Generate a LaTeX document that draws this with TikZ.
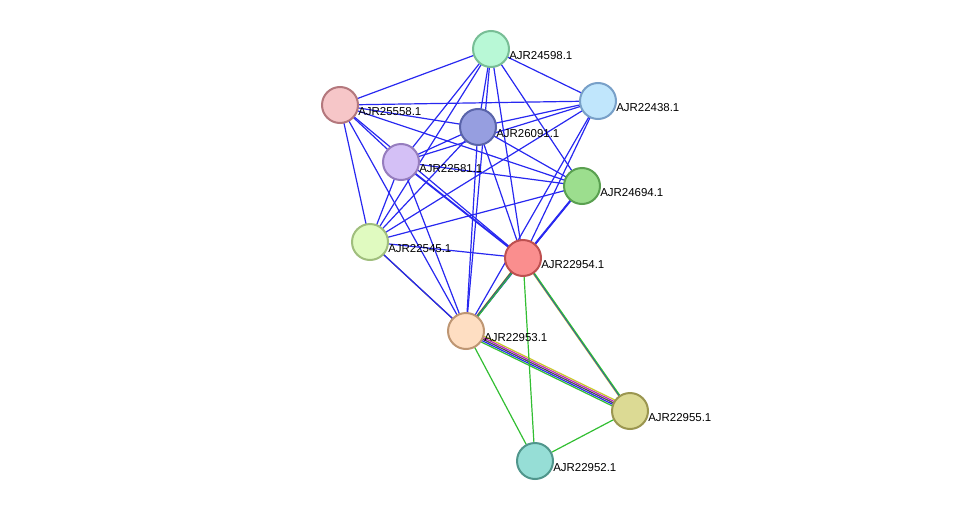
\documentclass[tikz,border=0pt]{standalone}
\usepackage{fontspec}
\setmainfont{Liberation Sans}
\begin{document}
\begin{tikzpicture}[x=0.75pt,y=0.75pt,yscale=-1,
  prot/.style={circle,minimum size=27pt,inner sep=0pt,line width=1.5pt},
  lab/.style={anchor=south west,inner sep=0pt,font=\fontsize{8.6}{10}\selectfont},
  blu/.style={draw={rgb,255:red,40;green,40;blue,240},line width=0.9pt},
  grn/.style={draw={rgb,255:red,50;green,190;blue,50},line width=0.9pt}]
\useasboundingbox (0,0) rectangle (975,507);

% positions
\coordinate (p24598) at (491,49);
\coordinate (p22438) at (598,101);
\coordinate (p25558) at (340,105);
\coordinate (p26091) at (478,127);
\coordinate (p22581) at (401,162);
\coordinate (p24694) at (582,186);
\coordinate (p22545) at (370,242);
\coordinate (p22954) at (523,258);
\coordinate (p22953) at (466,331);
\coordinate (p22955) at (630,411);
\coordinate (p22952) at (535,461);

% blue edges
\foreach \a/\b in {24598/22438,24598/25558,24598/26091,24598/22581,24598/22545,24598/22954,24598/22953,24598/24694,
  22438/25558,22438/26091,22438/22581,22438/22545,22438/22954,22438/22953,
  25558/26091,25558/22581,25558/24694,25558/22545,25558/22954,25558/22953,
  26091/22581,26091/24694,26091/22545,26091/22954,26091/22953,
  22581/24694,22581/22545,22581/22954,22581/22953,
  24694/22545,24694/22954,24694/22953,22545/22954}
  \draw[blu] (p\a) -- (p\b);
\draw[blu,transform canvas={xshift=-0.8pt}] (p22581) -- (p22954);
\draw[blu,transform canvas={xshift=0.8pt}] (p24694) -- (p22954);

% multi-coloured edges
\draw[black!70,line width=0.9pt,transform canvas={xshift=0.6pt,yshift=-0.6pt}] (p22545) -- (p22953);
\draw[blu,transform canvas={xshift=-0.6pt,yshift=0.6pt}] (p22545) -- (p22953);
\foreach \k/\c in {-2/{rgb,255:red,200;green,200;blue,40},-1/black!70,0/{rgb,255:red,40;green,40;blue,240},1/{rgb,255:red,50;green,190;blue,50}}
  \draw[draw=\c,line width=0.9pt,transform canvas={xshift=1.3*\k*0.79pt,yshift=1.3*\k*0.62pt}] (p22954) -- (p22953);
\foreach \k/\c in {-1/{rgb,255:red,200;green,200;blue,40},0/{rgb,255:red,40;green,40;blue,240},1/{rgb,255:red,50;green,190;blue,50}}
  \draw[draw=\c,line width=0.9pt,transform canvas={xshift=1.3*\k*0.82pt,yshift=-1.3*\k*0.57pt}] (p22954) -- (p22955);
\foreach \k/\c in {-2/{rgb,255:red,200;green,200;blue,40},-1/{rgb,255:red,190;green,40;blue,190},0/black!70,1/{rgb,255:red,40;green,40;blue,240},2/{rgb,255:red,50;green,190;blue,50}}
  \draw[draw=\c,line width=0.9pt,transform canvas={xshift=-1.2*\k*0.44pt,yshift=-1.2*\k*0.9pt}] (p22953) -- (p22955);
\draw[grn] (p22954) -- (p22952);
\draw[grn] (p22953) -- (p22952);
\draw[grn] (p22955) -- (p22952);

% proteins
\foreach \n/\f/\d in {24598/{rgb,255:red,184;green,248;blue,214}/{rgb,255:red,120;green,190;blue,150},
  22438/{rgb,255:red,192;green,230;blue,252}/{rgb,255:red,120;green,160;blue,200},
  25558/{rgb,255:red,246;green,198;blue,200}/{rgb,255:red,180;green,120;blue,125},
  26091/{rgb,255:red,150;green,158;blue,224}/{rgb,255:red,90;green,100;blue,170},
  22581/{rgb,255:red,212;green,192;blue,246}/{rgb,255:red,150;green,125;blue,190},
  24694/{rgb,255:red,156;green,222;blue,142}/{rgb,255:red,90;green,160;blue,80},
  22545/{rgb,255:red,224;green,250;blue,192}/{rgb,255:red,160;green,190;blue,125},
  22954/{rgb,255:red,250;green,142;blue,142}/{rgb,255:red,190;green,80;blue,80},
  22953/{rgb,255:red,254;green,222;blue,194}/{rgb,255:red,190;green,150;blue,115},
  22955/{rgb,255:red,220;green,218;blue,148}/{rgb,255:red,155;green,150;blue,80},
  22952/{rgb,255:red,150;green,222;blue,214}/{rgb,255:red,80;green,150;blue,140}}
{
  \node[prot,fill=\f,draw=\d] (n\n) at (p\n) {};
  \node[lab] (l\n) at ([xshift=13.5pt,yshift=8pt]p\n) {AJR\n.1};
}
\end{tikzpicture}
\end{document}
